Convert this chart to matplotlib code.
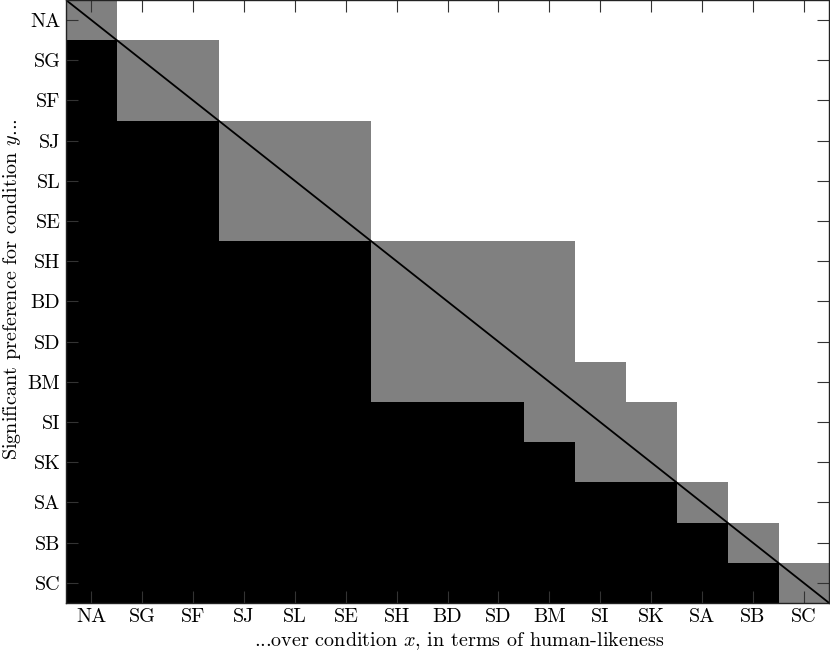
import numpy as np
import matplotlib
matplotlib.use("Agg")
from matplotlib import pyplot as plt
from matplotlib.colors import ListedColormap

plt.rcParams['font.family'] = 'serif'
plt.rcParams['font.serif'] = ['cmr10']
plt.rcParams['mathtext.fontset'] = 'cm'
plt.rcParams['axes.formatter.use_mathtext'] = True

conditions = ['NA', 'SG', 'SF', 'SJ', 'SL', 'SE', 'SH', 'BD',
              'SD', 'BM', 'SI', 'SK', 'SA', 'SB', 'SC']

# 0 = white (no preference), 1 = gray (no significant difference),
# 2 = black (significant preference for y over x)
rows = [
    '100000000000000',
    '211000000000000',
    '211000000000000',
    '222111000000000',
    '222111000000000',
    '222111000000000',
    '222222111100000',
    '222222111100000',
    '222222111100000',
    '222222111110000',
    '222222222111000',
    '222222222211000',
    '222222222222100',
    '222222222222210',
    '222222222222221',
]

matrix = np.array([[int(c) for c in r] for r in rows])
n = len(conditions)

fig = plt.figure(figsize=(8.3, 6.56), dpi=100)
ax = fig.add_axes([0.0795, 0.0808, 0.9195, 0.9192])

cmap = ListedColormap(['white', '#808080', 'black'])
ax.imshow(matrix, cmap=cmap, vmin=0, vmax=2, aspect='auto',
          interpolation='nearest', extent=(-0.5, n - 0.5, n - 0.5, -0.5))

# diagonal
ax.plot([-0.5, n - 0.5], [-0.5, n - 0.5], color='black', lw=1.3)

ax.set_xlim(-0.5, n - 0.5)
ax.set_ylim(n - 0.5, -0.5)

ax.set_xticks(range(n))
ax.set_xticklabels(conditions)
ax.set_yticks(range(n))
ax.set_yticklabels(conditions)
ax.tick_params(direction='in', length=8.5, width=0.8, color='#333333',
               top=True, right=True, labelsize=14.5, pad=4)

for s in ax.spines.values():
    s.set_linewidth(1.0)
    s.set_color('#222222')

ax.set_xlabel(r'...over condition $x$, in terms of human-likeness', fontsize=14.5)
ax.set_ylabel(r'Significant preference for condition $y$...', fontsize=14.5)
ax.xaxis.set_label_coords(0.515, -0.063, transform=ax.transAxes)
ax.yaxis.set_label_coords(-0.0705, 0.52, transform=ax.transAxes)
ax.xaxis.label.set_va('center')
ax.yaxis.label.set_va('center')

fig.savefig('out.png', dpi=100)
